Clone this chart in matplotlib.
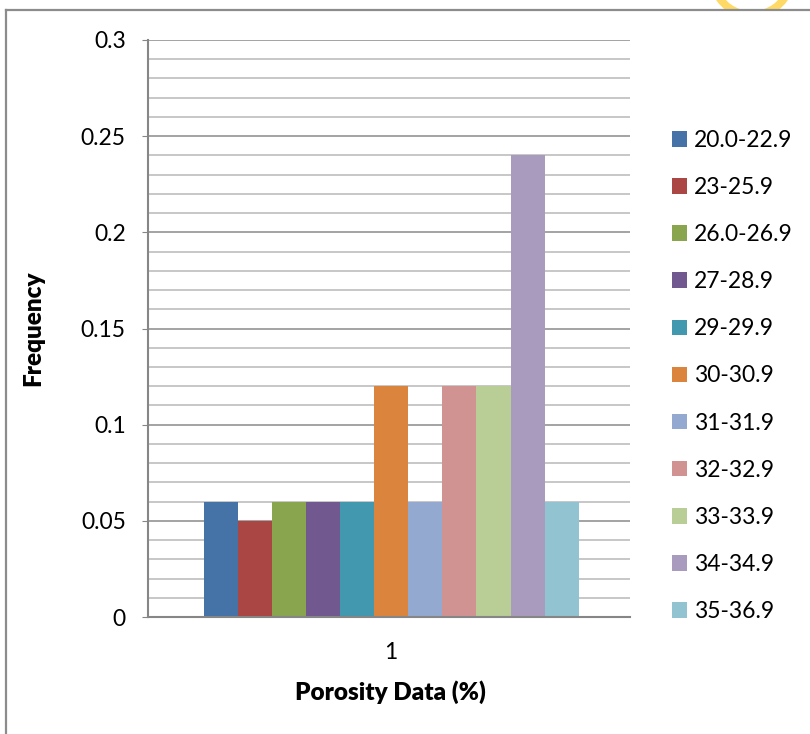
import matplotlib
matplotlib.use("Agg")
import matplotlib.pyplot as plt
from matplotlib.patches import Patch, Arc
from matplotlib.lines import Line2D
from matplotlib.ticker import MultipleLocator

plt.rcParams['font.family'] = ['Lato', 'DejaVu Sans']

# porosity classes and their relative frequency
classes = ['20.0-22.9', '23-25.9', '26.0-26.9', '27-28.9', '29-29.9', '30-30.9',
           '31-31.9', '32-32.9', '33-33.9', '34-34.9', '35-36.9']
frequency = [0.06, 0.05, 0.06, 0.06, 0.06, 0.12, 0.06, 0.12, 0.12, 0.24, 0.06]
colors = ['#4572A7', '#AA4643', '#89A54E', '#71588F', '#4198AF', '#DB843D',
          '#93A9CF', '#D19392', '#B9CD96', '#A99BBD', '#92C3D1']
yticks = [0, 0.05, 0.1, 0.15, 0.2, 0.25, 0.3]
ytick_labels = ['0', '0.05', '0.1', '0.15', '0.2', '0.25', '0.3']

FS = 16.5
W, H = 810, 734
fig = plt.figure(figsize=(W / 100, H / 100), dpi=100)
ax = fig.add_axes([148 / W, 1 - 617 / H, 482 / W, 577 / H])
ax.set_zorder(2)

# one category, each class drawn as its own series side by side
for i, (name, val, c) in enumerate(zip(classes, frequency, colors)):
    ax.bar(i, val, width=1.0, color=c, label=name, zorder=3)

ax.set_ylim(0, 0.3)
ax.set_xlim(-2.13, 12.0)
ax.set_yticks(yticks)
ax.set_yticklabels(ytick_labels)
ax.yaxis.set_minor_locator(MultipleLocator(0.01))
ax.set_xticks([5])
ax.set_xticklabels(['1'])

ax.grid(which='major', axis='y', color='#8a8a8a', lw=1.1, zorder=1)
ax.grid(which='minor', axis='y', color='#b8b8b8', lw=1.1, zorder=1)
ax.tick_params(axis='y', which='major', length=4, color='#868686', pad=12, labelsize=FS)
ax.tick_params(axis='y', which='minor', length=0)
ax.tick_params(axis='x', length=0, pad=18, labelsize=FS)

for s in ['top', 'right']:
    ax.spines[s].set_visible(False)
for s in ['left', 'bottom']:
    ax.spines[s].set_color('#868686')
    ax.spines[s].set_linewidth(1.5)
    ax.spines[s].set_zorder(4)

ax.set_ylabel('Frequency', fontsize=17.5, fontweight='heavy', va='center')
ax.yaxis.set_label_coords(-0.2386, 0.5)
ax.set_xlabel('Porosity Data (%)', fontsize=17.5, fontweight='heavy', va='center')
ax.xaxis.set_label_coords(0.502, -0.13)

handles = [Patch(facecolor=c, edgecolor='none') for c in colors]
leg = fig.legend(handles, classes, loc='center left', bbox_to_anchor=(672 / W, 1 - 376 / H),
                 frameon=False, fontsize=FS, handlelength=0.66, handleheight=0.66,
                 handletextpad=0.3, labelspacing=1.14, borderpad=0, borderaxespad=0)
leg.set_zorder(3)

# chart box border (only top and left fall inside the image)
fig.add_artist(Line2D([6 / W, 1.0], [1 - 10 / H, 1 - 10 / H], color='#8c8c8c', lw=1.6, zorder=1))
fig.add_artist(Line2D([6 / W, 6 / W], [0, 1 - 10 / H], color='#8c8c8c', lw=1.6, zorder=1))

# yellow ring peeking in above the box
ring = Arc((752 / W, 1 + 25 / H), 80 / W, 80 / H, theta1=200, theta2=340,
           transform=fig.transFigure, color='#FFD966', lw=5.5, zorder=0)
fig.add_artist(ring)
fig.add_artist(plt.Rectangle((6 / W, 0), 1, 1 - 10 / H, transform=fig.transFigure,
                             facecolor='white', edgecolor='none', zorder=0.5))

fig.savefig('out.png', dpi=100)
